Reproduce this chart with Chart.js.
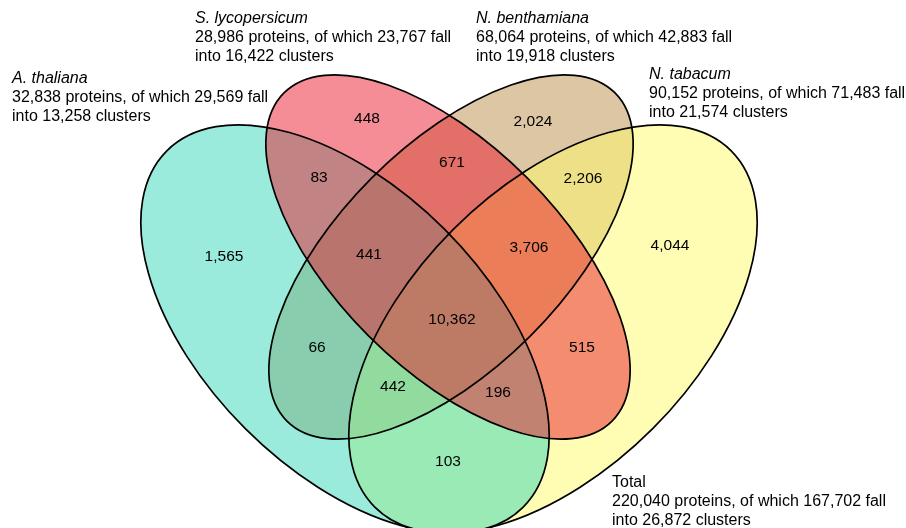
<!DOCTYPE html>
<html><head><meta charset="utf-8">
<script src="https://cdn.jsdelivr.net/npm/chart.js@4.4.1/dist/chart.umd.min.js"></script>
<style>html,body{margin:0;padding:0;background:#fff;}#wrap{width:906px;height:528px;}</style>
</head><body><div id="wrap"><canvas id="c" width="906" height="528"></canvas></div>
<script>
// ---- data ----
const setNames = ['A. thaliana', 'S. lycopersicum', 'N. benthamiana', 'N. tabacum'];
const setProteins = [32838, 28986, 68064, 90152];
const setClustered = [29569, 23767, 42883, 71483];
const setClusters = [13258, 16422, 19918, 21574];
const totalValues = [220040, 167702, 26872];
const regionKeys = ['A', 'S', 'B', 'T', 'AS', 'SB', 'BT', 'AB', 'ST', 'AT', 'ASB', 'SBT', 'ABT', 'AST', 'ASBT'];
const regionCounts = [1565, 448, 2024, 4044, 83, 671, 2206, 66, 515, 103, 441, 3706, 442, 196, 10362];

// ---- layout (chart units) ----
const regionPos = {
  A: [224, 257], S: [367, 119], B: [533, 122], T: [670, 246],
  AS: [319, 178], SB: [452, 163], BT: [583, 179], AB: [317, 348],
  ST: [582, 348], AT: [448, 462], ASB: [369, 255], SBT: [529, 248],
  ABT: [393, 387], AST: [498, 393], ASBT: [452, 320]
};
// ellipse geometry per set: center x, center y, semi-major, semi-minor, rotation (deg)
const ellipseGeom = {
  A: [345, 329, 252, 141, 45],
  S: [448, 257, 232, 112, 45],
  B: [451, 257, 232, 112, -45],
  T: [553, 329, 252, 141, -45]
};
const ellipseColor = {
  A: 'rgba(53,215,185,0.5)', S: 'rgba(233,27,45,0.5)',
  B: 'rgba(185,141,73,0.5)', T: 'rgba(255,251,105,0.5)'
};
const drawOrder = ['B', 'T', 'A', 'S'];
const setKeys = ['A', 'S', 'B', 'T'];
const setLabelPos = [[12, 79], [195, 19], [476, 19], [649, 75]];
const totalLabelPos = [612, 483];
const lineGap = 19;
const FONT = '"Liberation Sans", Arial, Helvetica, sans-serif';

const fmt = v => v.toLocaleString('en-US');
const regionPoints = regionKeys.map((k, i) => ({ x: regionPos[k][0], y: regionPos[k][1], v: regionCounts[i] }));

const vennPlugin = {
  id: 'venn',
  beforeDatasetsDraw(chart) {
    const { ctx, scales: { x, y } } = chart;
    const sx = v => x.getPixelForValue(v), sy = v => y.getPixelForValue(v);
    const path = (k) => {
      const [cx, cy, a, b, r] = ellipseGeom[k];
      ctx.beginPath();
      ctx.ellipse(sx(cx), sy(cy), Math.abs(sx(cx + a) - sx(cx)), Math.abs(sy(cy + b) - sy(cy)), r * Math.PI / 180, 0, Math.PI * 2);
      ctx.closePath();
    };
    ctx.save();
    drawOrder.forEach(k => { path(k); ctx.fillStyle = ellipseColor[k]; ctx.fill(); });
    ctx.strokeStyle = '#000'; ctx.lineWidth = 1.7;
    drawOrder.forEach(k => { path(k); ctx.stroke(); });
    ctx.restore();
  },
  afterDatasetsDraw(chart) {
    const { ctx, scales: { x, y } } = chart;
    const meta = chart.getDatasetMeta(0);
    ctx.save();
    ctx.fillStyle = '#000';
    ctx.textAlign = 'center'; ctx.textBaseline = 'middle';
    ctx.font = '15.5px ' + FONT;
    meta.data.forEach((el, i) => {
      ctx.fillText(fmt(chart.data.datasets[0].data[i].v), el.x, el.y);
    });
    ctx.textAlign = 'left';
    setKeys.forEach((k, i) => {
      const px = x.getPixelForValue(setLabelPos[i][0]);
      const py = y.getPixelForValue(setLabelPos[i][1]);
      ctx.font = 'italic 16px ' + FONT;
      ctx.fillText(setNames[i], px, py);
      ctx.font = '16px ' + FONT;
      ctx.fillText(fmt(setProteins[i]) + ' proteins, of which ' + fmt(setClustered[i]) + ' fall', px, py + lineGap);
      ctx.fillText('into ' + fmt(setClusters[i]) + ' clusters', px, py + 2 * lineGap);
    });
    const tx = x.getPixelForValue(totalLabelPos[0]), ty = y.getPixelForValue(totalLabelPos[1]);
    ctx.font = '16px ' + FONT;
    ctx.fillText('Total', tx, ty);
    ctx.fillText(fmt(totalValues[0]) + ' proteins, of which ' + fmt(totalValues[1]) + ' fall', tx, ty + lineGap);
    ctx.fillText('into ' + fmt(totalValues[2]) + ' clusters', tx, ty + 2 * lineGap);
    ctx.restore();
  }
};

new Chart(document.getElementById('c'), {
  type: 'scatter',
  data: { datasets: [{ data: regionPoints, pointRadius: 0, pointHoverRadius: 0, showLine: false }] },
  options: {
    responsive: false, animation: false,
    layout: { padding: 0 },
    plugins: { legend: { display: false }, tooltip: { enabled: false } },
    scales: {
      x: { type: 'linear', min: 0, max: 906, display: false },
      y: { type: 'linear', min: 0, max: 528, reverse: true, display: false }
    }
  },
  plugins: [vennPlugin]
});
</script></body></html>
